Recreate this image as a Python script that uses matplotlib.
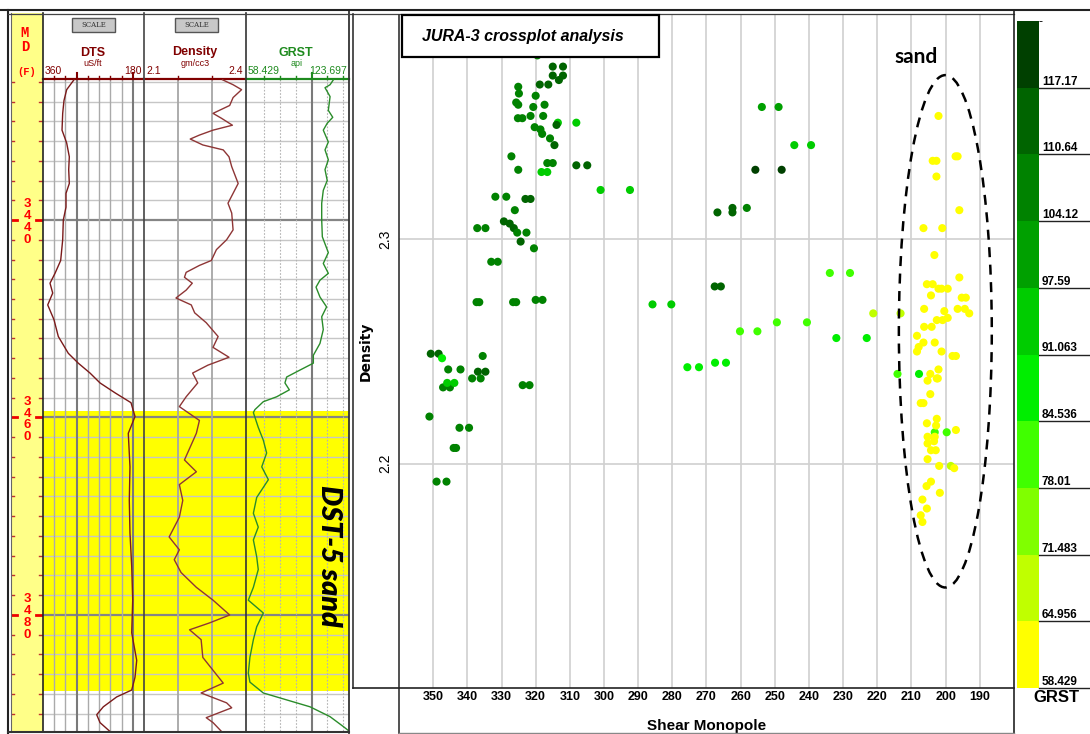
import matplotlib
matplotlib.use("Agg")
import matplotlib.pyplot as plt
import matplotlib.transforms as mtransforms
from matplotlib.colors import ListedColormap, BoundaryNorm
from matplotlib.cm import ScalarMappable
from matplotlib.patches import Ellipse, Rectangle
from matplotlib.lines import Line2D

W, H = 1090, 734

# ---------------- log curves (depth in ft) ----------------
dts_depth = [3425.8, 3426.8, 3427.9, 3429.2, 3430.9, 3432.2, 3433.6, 3434.9, 3436.3, 3437.3,
             3438.7, 3440.0, 3442.0, 3444.1, 3445.4, 3446.4, 3447.4, 3448.6, 3450.1, 3451.8,
             3453.5, 3454.5, 3455.5, 3456.5, 3457.5, 3458.5, 3459.9, 3461.6, 3465.0, 3468.4,
             3471.7, 3475.1, 3478.5, 3481.8, 3484.6, 3486.3, 3487.6, 3488.3, 3489.3, 3490.1,
             3490.9, 3491.8]
dts = [304.8, 317.8, 322.6, 324.9, 326.1, 317.8, 313.1, 314.2, 313.1, 319.0,
       319.0, 323.8, 324.9, 328.5, 338.6, 347.5, 342.7, 351.6, 340.4, 332.7,
       314.9, 297.1, 276.2, 258.4, 231.7, 203.2, 196.0, 208.0, 205.0, 206.2,
       205.0, 201.9, 200.1, 201.9, 193.0, 196.0, 201.9, 228.7, 252.5, 264.3,
       258.4, 240.6]

den_depth = [3425.8, 3426.3, 3426.8, 3427.6, 3428.4, 3429.2, 3429.7, 3430.4, 3430.9, 3431.4,
             3431.8, 3432.4, 3432.9, 3433.6, 3434.6, 3436.3, 3437.3, 3438.3, 3439.3, 3441.0,
             3442.0, 3443.0, 3444.1, 3444.6, 3445.3, 3445.8, 3446.4, 3447.1, 3447.9, 3448.6,
             3449.4, 3450.4, 3451.8, 3452.9, 3453.9, 3454.7, 3455.5, 3456.5, 3457.9, 3458.9,
             3460.3, 3461.6, 3464.3, 3465.5, 3466.8, 3468.4, 3470.1, 3472.1, 3473.4, 3474.4,
             3475.7, 3477.2, 3478.5, 3480.0, 3480.8, 3481.5, 3482.5, 3484.3, 3485.6, 3486.9,
             3487.9, 3488.9, 3489.4, 3490.4, 3490.9, 3491.8]
den = [2.331, 2.362, 2.387, 2.362, 2.352, 2.303, 2.328, 2.360, 2.303, 2.263,
       2.236, 2.273, 2.333, 2.350, 2.358, 2.377, 2.362, 2.347, 2.358, 2.362,
       2.343, 2.313, 2.298, 2.263, 2.224, 2.219, 2.242, 2.224, 2.194, 2.239,
       2.249, 2.283, 2.318, 2.303, 2.350, 2.288, 2.243, 2.258, 2.224, 2.204,
       2.263, 2.254, 2.219, 2.254, 2.204, 2.214, 2.204, 2.174, 2.204, 2.189,
       2.209, 2.254, 2.303, 2.352, 2.293, 2.234, 2.268, 2.273, 2.303, 2.333,
       2.268, 2.343, 2.358, 2.283, 2.303, 2.328]

gr_depth = [3425.8, 3426.3, 3426.6, 3427.5, 3428.9, 3429.6, 3430.2, 3430.9, 3432.1, 3432.9,
            3433.9, 3434.9, 3436.0, 3437.0, 3438.3, 3440.0, 3441.7, 3443.3, 3444.4, 3445.4,
            3446.1, 3446.8, 3447.8, 3448.8, 3449.8, 3451.1, 3452.5, 3453.7, 3454.5, 3455.2,
            3455.9, 3456.5, 3457.2, 3457.9, 3458.4, 3459.2, 3459.5, 3461.0, 3462.3, 3463.6,
            3465.0, 3466.3, 3468.1, 3469.7, 3471.1, 3472.4, 3474.1, 3475.4, 3477.2, 3478.5,
            3479.8, 3481.2, 3482.5, 3484.3, 3485.9, 3486.8, 3487.9, 3488.6, 3489.3, 3490.3,
            3491.3, 3491.7]
gr = [113.8, 111.7, 108.5, 111.7, 110.6, 113.4, 109.9, 107.4, 110.6, 108.5,
      110.6, 108.5, 109.9, 107.4, 106.4, 106.4, 106.8, 110.6, 107.4, 110.6,
      105.3, 102.8, 105.3, 109.5, 106.4, 107.4, 105.3, 101.1, 101.1, 92.6,
      84.2, 83.1, 85.9, 77.9, 69.4, 64.1, 63.1, 66.2, 69.4, 71.5,
      68.4, 72.6, 65.2, 63.1, 66.2, 63.1, 65.2, 66.2, 63.1, 59.9,
      69.4, 65.2, 63.1, 60.9, 59.9, 60.9, 69.4, 84.2, 99.0, 111.7,
      120.1, 123.3]

depth_labels = [3440, 3460, 3480]
sand_top, sand_base = 3459.3, 3487.7

# ---------------- crossplot points ----------------
shear = [319.5, 315.0, 312.0, 315.0, 312.0, 318.8, 316.3, 313.2, 325.1, 324.9,
         320.0, 325.7, 325.1, 320.7, 317.4, 325.2, 323.9, 321.5, 317.8, 313.5,
         313.9, 308.1, 320.3, 318.6, 318.1, 315.8, 314.5, 327.1, 316.6, 315.0,
         308.1, 304.9, 325.1, 318.3, 316.6, 301.0, 292.4, 331.8, 328.6, 323.0,
         321.5, 326.1, 329.3, 327.6, 326.4, 337.1, 334.7, 325.4, 322.7, 324.4,
         320.5, 333.0, 331.1, 337.3, 336.5, 326.6, 325.7, 320.0, 318.0, 350.7,
         348.4, 347.4, 335.5, 345.6, 342.0, 336.9, 334.7, 338.6, 336.1, 347.1,
         345.1, 345.9, 343.8, 323.8, 321.8, 351.1, 342.3, 339.5, 344.0, 343.3,
         349.0, 346.1,
         285.8, 280.3, 275.6, 272.2, 267.5, 264.3, 253.8, 248.9, 244.3, 239.4,
         255.7, 248.0, 266.8, 262.4, 262.4, 258.2, 233.9, 228.0, 267.6, 265.8,
         221.2, 213.2, 249.4, 240.6, 260.2, 255.1, 232.0, 223.1, 214.1, 207.8,
         203.2, 199.7, 198.5,
         202.1, 203.8, 202.7, 197.1, 196.5, 202.7, 196.0, 206.5, 201.0, 203.3,
         196.0, 205.5, 203.8, 202.1, 201.2, 199.4, 204.3, 195.3, 194.1, 206.3,
         196.5, 194.4, 193.1, 200.4, 202.6, 200.9, 199.4, 206.3, 204.1, 208.4,
         206.5, 203.2, 207.9, 208.4, 201.2, 198.0, 197.0, 202.1, 204.5, 202.6,
         202.3, 205.3, 204.5, 207.3, 206.5, 202.6, 205.5, 202.8, 197.0, 205.3,
         203.2, 205.3, 203.4, 204.3, 202.9, 205.3, 201.9, 197.5, 204.3, 205.6,
         201.7, 206.8, 205.5, 207.3, 206.8]
density = [2.382, 2.377, 2.377, 2.373, 2.373, 2.369, 2.369, 2.371, 2.368, 2.365,
           2.364, 2.361, 2.360, 2.359, 2.360, 2.354, 2.354, 2.355, 2.355, 2.352,
           2.351, 2.352, 2.350, 2.349, 2.347, 2.345, 2.342, 2.337, 2.334, 2.334,
           2.333, 2.333, 2.331, 2.330, 2.330, 2.322, 2.322, 2.319, 2.319, 2.318,
           2.318, 2.313, 2.308, 2.307, 2.305, 2.305, 2.305, 2.303, 2.303, 2.299,
           2.296, 2.290, 2.290, 2.272, 2.272, 2.272, 2.272, 2.273, 2.273, 2.249,
           2.249, 2.247, 2.248, 2.242, 2.242, 2.241, 2.241, 2.238, 2.238, 2.234,
           2.234, 2.236, 2.236, 2.235, 2.235, 2.221, 2.216, 2.216, 2.207, 2.207,
           2.192, 2.192,
           2.271, 2.271, 2.243, 2.243, 2.245, 2.245, 2.359, 2.359, 2.342, 2.342,
           2.331, 2.331, 2.312, 2.314, 2.312, 2.314, 2.285, 2.285, 2.279, 2.279,
           2.267, 2.267, 2.263, 2.263, 2.259, 2.259, 2.256, 2.256, 2.240, 2.240,
           2.214, 2.214, 2.199,
           2.355, 2.335, 2.335, 2.337, 2.337, 2.328, 2.313, 2.305, 2.305, 2.293,
           2.283, 2.280, 2.280, 2.278, 2.278, 2.278, 2.275, 2.274, 2.274, 2.269,
           2.269, 2.269, 2.267, 2.268, 2.264, 2.264, 2.265, 2.261, 2.261, 2.257,
           2.254, 2.254, 2.252, 2.250, 2.250, 2.248, 2.248, 2.242, 2.240, 2.238,
           2.238, 2.237, 2.231, 2.227, 2.227, 2.220, 2.218, 2.217, 2.215, 2.212,
           2.212, 2.209, 2.210, 2.206, 2.206, 2.202, 2.199, 2.198, 2.192, 2.190,
           2.187, 2.184, 2.180, 2.177, 2.174]
grst = [107, 114, 113, 113, 114, 112, 113, 115, 107, 106,
        108, 107, 108, 106, 107, 107, 106, 108, 107, 95,
        113, 94, 107, 106, 108, 107, 113, 106, 107, 106,
        114, 115, 106, 95, 94, 94, 93, 106, 105, 113,
        112, 105, 112, 113, 112, 107, 106, 105, 106, 113,
        105, 107, 108, 106, 107, 106, 105, 107, 106, 114,
        113, 90, 105, 106, 105, 114, 113, 106, 107, 107,
        106, 95, 94, 106, 107, 105, 106, 105, 106, 107,
        106, 105,
        95, 94, 87, 88, 86, 87, 101, 102, 93, 94,
        120, 119, 114, 113, 114, 107, 82, 83, 114, 115,
        68, 69, 82, 81, 83, 82, 88, 87, 83, 87,
        82, 81, 68,
        61, 60, 62, 61, 60, 61, 62, 60, 61, 62,
        61, 60, 61, 62, 60, 61, 62, 61, 60, 61,
        62, 60, 61, 62, 60, 61, 62, 61, 60, 61,
        62, 60, 61, 62, 60, 61, 62, 61, 60, 61,
        62, 60, 61, 62, 60, 61, 62, 61, 60, 61,
        62, 60, 61, 62, 60, 61, 62, 61, 60, 61,
        62, 60, 61, 62, 60]

shear_ticks = [350, 340, 330, 320, 310, 300, 290, 280, 270, 260, 250, 240, 230, 220, 210, 200, 190]
density_ticks = [2.2, 2.3]

gr_bounds = [58.429, 64.956, 71.483, 78.01, 84.536, 91.063, 97.59, 104.12, 110.64, 117.17, 123.697]
gr_colors = ['#ffff00', '#c0ff00', '#80ff00', '#40ff00', '#00ee00',
             '#00cc00', '#00a000', '#008200', '#006400', '#004000']
gr_labels = ['58.429', '64.956', '71.483', '78.01', '84.536', '91.063', '97.59', '104.12', '110.64', '117.17']

# sand ellipse (centre, width, height in data units)
sand_xy, sand_w, sand_h = (200.1, 2.259), 27.2, 0.2284


def box(x0, y0, x1, y1):
    return [x0 / W, 1 - y1 / H, (x1 - x0) / W, (y1 - y0) / H]


def fline(fig, x0, y0, x1, y1, **kw):
    fig.add_artist(Line2D([x0 / W, x1 / W], [1 - y0 / H, 1 - y1 / H],
                          transform=fig.transFigure, **kw))


def ftext(fig, x, y, s, **kw):
    return fig.text(x / W, 1 - y / H, s, **kw)


def frect(fig, x0, y0, x1, y1, **kw):
    fig.add_artist(Rectangle((x0 / W, 1 - y1 / H), (x1 - x0) / W, (y1 - y0) / H,
                             transform=fig.transFigure, **kw))


fig = plt.figure(figsize=(10.9, 7.34), dpi=100)
top_d, bot_d = 3425.72, 3491.75
minor_d = list(range(3426, 3491, 2))

# ---------------- MD column ----------------
frect(fig, 11, 13, 43, 732, facecolor='#ffff88', edgecolor='none', zorder=-1)
ax_md = fig.add_axes(box(11, 79, 43, 731))
ax_md.set_xlim(0, 1)
ax_md.set_ylim(bot_d, top_d)
ax_md.axis('off')
for d in minor_d:
    if d in depth_labels:
        ax_md.plot([0, 0.2], [d, d], color='#ee0000', lw=2)
        ax_md.plot([0.78, 1], [d, d], color='#ee0000', lw=2)
    else:
        ax_md.plot([0, 0.1], [d, d], color='#c03030', lw=1)
        ax_md.plot([0.88, 1], [d, d], color='#c03030', lw=1)
for d in depth_labels:
    ax_md.text(0.52, d + 0.2, '\n'.join(str(d)), color='#ff0000', fontsize=9.5,
               fontweight='bold', family='Liberation Sans', ha='center', va='center',
               linespacing=0.98)
ftext(fig, 25, 33, 'M', color='#ff0000', fontsize=10, fontweight='bold',
      family='Liberation Mono', ha='center', va='center')
ftext(fig, 25, 47, 'D', color='#ff0000', fontsize=10, fontweight='bold',
      family='Liberation Mono', ha='center', va='center')
ftext(fig, 27, 72, '(F)', color='#ff0000', fontsize=7.5, fontweight='bold',
      family='Liberation Mono', ha='center', va='center')

# ---------------- log tracks ----------------
maroon = '#800000'
green = '#1e8a1e'
tracks = [(43, 144, (360, 180), dts, dts_depth, '#7a1a1a', maroon),
          (144, 246, (2.1, 2.4), den, den_depth, '#8e3535', maroon),
          (246, 349, (58.429, 123.697), gr, gr_depth, '#2a8c2a', green)]
track_axes = []
for x0, x1, xl, vals, dep, ccol, hcol in tracks:
    a = fig.add_axes(box(x0, 79, x1, 731))
    a.set_xlim(*xl)
    a.set_ylim(bot_d, top_d)
    a.axhspan(sand_top, sand_base, color='#ffff00', lw=0, zorder=0)
    for d in minor_d:
        if d in depth_labels:
            a.axhline(d, color='#858585', lw=1.6, zorder=1)
        else:
            a.axhline(d, color='#c6c6c6', lw=1.0, zorder=1)
    a.plot(vals, dep, color=ccol, lw=1.0, zorder=3)
    a.set_xticks([])
    a.set_yticks([])
    for s in ['left', 'right', 'bottom']:
        a.spines[s].set_visible(False)
    a.spines['top'].set_color(hcol)
    a.spines['top'].set_linewidth(1.6)
    track_axes.append(a)

ax_dts, ax_den, ax_gr = track_axes
tick_tr = [mtransforms.blended_transform_factory(a.transData, a.transAxes) for a in track_axes]
for v in [340, 320, 280, 260, 240, 220]:
    ax_dts.axvline(v, color='#aaaaaa', lw=1.0, zorder=1)
    ax_dts.plot([v, v], [1, 1.005], transform=tick_tr[0], color=maroon, lw=1, clip_on=False)
for v in [300, 200]:
    ax_dts.axvline(v, color='#7a7a7a', lw=1.5, zorder=1)
    ax_dts.plot([v, v], [1, 1.009], transform=tick_tr[0], color=maroon, lw=1.5, clip_on=False)
for v in [2.2, 2.3]:
    ax_den.axvline(v, color='#a6a6a6', lw=1.3, zorder=1)
    ax_den.plot([v, v], [1, 1.005], transform=tick_tr[1], color=maroon, lw=1, clip_on=False)
for v in [70, 80, 90, 110, 120]:
    ax_gr.axvline(v, color='#b4b4b4', lw=0.8, ls=(0, (1.5, 1.5)), zorder=1)
    ax_gr.plot([v, v], [1, 1.005], transform=tick_tr[2], color=green, lw=1, clip_on=False)
ax_gr.axvline(100, color='#7a7a7a', lw=1.5, zorder=1)
ax_gr.plot([100, 100], [1, 1.009], transform=tick_tr[2], color=green, lw=1.5, clip_on=False)

ftext(fig, 329, 556, 'DST-5 sand', rotation=-90, fontsize=20.5, fontweight='heavy',
      style='italic', family='Lato', ha='center', va='center', color='black')

# headers
hdr = dict(family='Liberation Sans', ha='center', va='center')
ftext(fig, 93, 52.5, 'DTS', color=maroon, fontsize=9, fontweight='bold', **hdr)
ftext(fig, 93, 63.5, 'uS/ft', color=maroon, fontsize=6.5, **hdr)
ftext(fig, 53, 71, '360', color=maroon, fontsize=7.5, **hdr)
ftext(fig, 133, 71, '180', color=maroon, fontsize=7.5, **hdr)
ftext(fig, 195, 52.5, 'Density', color=maroon, fontsize=9, fontweight='bold', **hdr)
ftext(fig, 195, 63.5, 'gm/cc3', color=maroon, fontsize=6.5, **hdr)
ftext(fig, 154, 71, '2.1', color=maroon, fontsize=7.5, **hdr)
ftext(fig, 236, 71, '2.4', color=maroon, fontsize=7.5, **hdr)
ftext(fig, 296, 52.5, 'GRST', color=green, fontsize=9, fontweight='bold', **hdr)
ftext(fig, 297, 64, 'api', color=green, fontsize=6.5, **hdr)
ftext(fig, 264, 71, '58.429', color=green, fontsize=7.5, **hdr)
ftext(fig, 328, 71, '123.697', color=green, fontsize=7.5, **hdr)
for bx in [72, 175]:
    frect(fig, bx, 18, bx + 43, 32, facecolor='#c8c8c8', edgecolor='#555555', lw=1, zorder=3)
    ftext(fig, bx + 21.5, 25, 'SCALE', fontsize=5, family='DejaVu Serif', color='#333333',
          ha='center', va='center', zorder=4)

# frames of the log panel
fline(fig, 8, 10, 8, 733, color='#222222', lw=1.5)
fline(fig, 11, 13, 11, 732, color='#666666', lw=0.8)
fline(fig, 43, 13, 43, 732, color='#222222', lw=1.2)
fline(fig, 144, 13, 144, 731, color='#444444', lw=1.2)
fline(fig, 246, 13, 246, 731, color='#333333', lw=1.2)
fline(fig, 349, 10, 349, 733, color='#333333', lw=1.3)
fline(fig, 8, 732, 349, 732, color='#333333', lw=1.5)
fline(fig, 0, 10, 1090, 10, color='#222222', lw=1.5)
fline(fig, 8, 13.5, 1014, 13.5, color='#444444', lw=0.9)

# ---------------- crossplot ----------------
cmap = ListedColormap(gr_colors)
norm = BoundaryNorm(gr_bounds, cmap.N)

ax = fig.add_axes(box(399, 15, 1014, 688))
ax.set_xlim(360, 180)
ax.set_ylim(2.1, 2.4)
ax.set_xticks(shear_ticks)
ax.set_xticklabels([str(t) for t in shear_ticks], fontsize=9, fontweight='bold',
                   family='Liberation Sans')
ax.set_yticks(density_ticks)
ax.set_yticklabels([str(t) for t in density_ticks], fontsize=10, rotation=90,
                   va='center', family='Liberation Sans')
ax.tick_params(length=0, pad=2)
ax.tick_params(axis='y', pad=5)
ax.grid(True, color='#d0d0d0', lw=1.2, zorder=0)
ax.set_axisbelow(True)
for s in ax.spines.values():
    s.set_visible(False)
ax.scatter(shear, density, c=grst, cmap=cmap, norm=norm, s=34, linewidths=0, zorder=3)
ax.add_patch(Ellipse(sand_xy, sand_w, sand_h, fill=False, edgecolor='black', lw=1.8,
                     ls=(0, (4, 3)), zorder=4))
ax.text(sand_xy[0] + 8.5, 2.3815, 'sand', fontsize=15, fontweight='bold', family='Lato',
        ha='center', va='center')
ax.set_xlabel('Shear Monopole', fontsize=11, fontweight='bold', family='Liberation Sans',
              labelpad=12)
ax.set_ylabel('Density', fontsize=10, fontweight='bold', labelpad=4)

frect(fig, 402, 15, 659, 57, facecolor='white', edgecolor='black', lw=1.6, zorder=5)
ftext(fig, 523, 37, 'JURA-3 crossplot analysis', fontsize=11.5, fontweight='bold',
      style='italic', family='Liberation Sans', ha='center', va='center', zorder=6)

fline(fig, 353, 13.5, 353, 688, color='#333333', lw=1.2)
fline(fig, 399, 15, 399, 733, color='#333333', lw=1.2)
fline(fig, 353, 688, 1014, 688, color='#222222', lw=1.2)
fline(fig, 1014, 10, 1014, 733, color='#222222', lw=1.2)
fline(fig, 399, 733, 1014, 733, color='#888888', lw=1.0)

# ---------------- colour bar ----------------
cax = fig.add_axes(box(1017, 21, 1039, 688))
cb = fig.colorbar(ScalarMappable(norm=norm, cmap=cmap), cax=cax, ticks=[])
cb.outline.set_visible(False)
ctr = mtransforms.blended_transform_factory(cax.transAxes, cax.transData)
for b, lab in zip(gr_bounds[:-1], gr_labels):
    cax.plot([1, 73 / 22], [b, b], transform=ctr, color='#222222', lw=1.0, clip_on=False)
    cax.annotate(lab, (1, b), xycoords=ctr, xytext=(2, 2.2), textcoords='offset points',
                 fontsize=8.5, fontweight='bold', family='Liberation Sans',
                 ha='left', va='baseline', annotation_clip=False)
ftext(fig, 1056, 698, 'GRST', fontsize=12, fontweight='bold', family='Liberation Sans',
      ha='center', va='center')

fig.savefig('out.png', dpi=100)
